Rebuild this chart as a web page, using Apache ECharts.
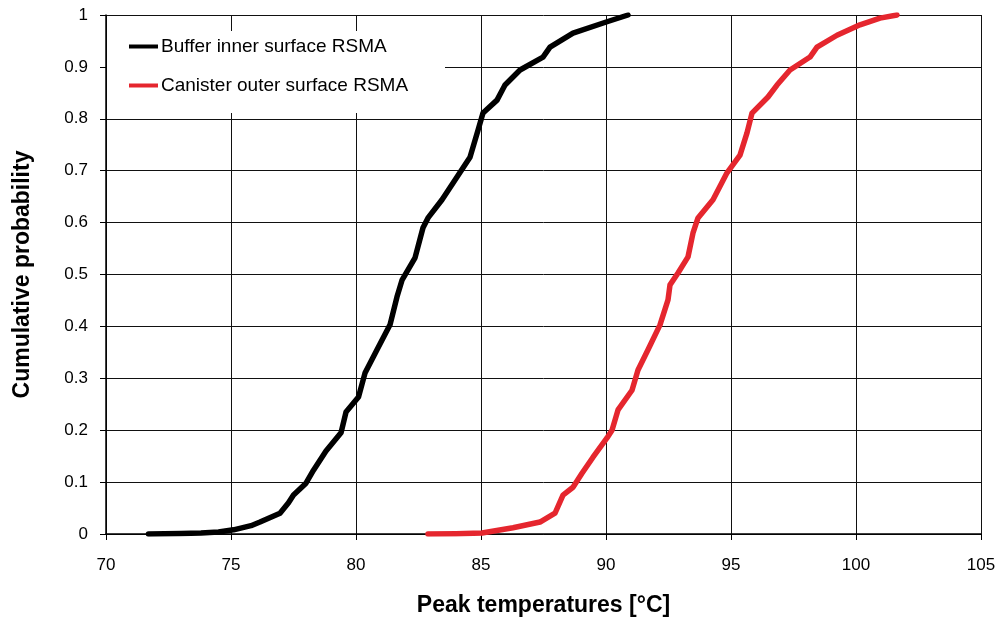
<!DOCTYPE html>
<html>
<head>
<meta charset="utf-8">
<script src="https://cdn.jsdelivr.net/npm/echarts@6/dist/echarts.min.js"></script>
<style>
  html, body { margin: 0; padding: 0; background: #fff; }
  #chart { width: 1000px; height: 623px; }
</style>
</head>
<body>
<div id="chart"></div>
<script>
// Cumulative distributions of peak temperatures (RSMA)
const bufferName = 'Buffer inner surface RSMA';
const bufferTemp = [71.7, 73.0, 73.8, 74.5, 75.1, 75.8, 76.16, 76.96, 77.3, 77.5, 78.0, 78.3, 78.8, 79.4, 79.6, 80.1, 80.36, 80.84, 81.36, 81.64, 81.84, 82.36, 82.68, 82.88, 83.44, 84.04, 84.56, 84.88, 85.08, 85.64, 85.96, 86.56, 87.48, 87.76, 88.68, 90.04, 90.88];
const bufferProb = [0, 0.001, 0.002, 0.004, 0.008, 0.016, 0.023, 0.04, 0.06, 0.075, 0.098, 0.123, 0.16, 0.195, 0.235, 0.264, 0.31, 0.355, 0.403, 0.457, 0.489, 0.532, 0.59, 0.609, 0.644, 0.688, 0.726, 0.778, 0.811, 0.836, 0.865, 0.894, 0.919, 0.938, 0.965, 0.987, 1.0];

const canisterName = 'Canister outer surface RSMA';
const canisterTemp = [82.88, 84.0, 85.04, 86.28, 87.36, 87.96, 88.28, 88.68, 89.04, 89.48, 90.04, 90.24, 90.48, 91.04, 91.28, 91.68, 92.16, 92.48, 92.56, 92.88, 93.28, 93.48, 93.68, 94.28, 94.84, 95.36, 95.64, 95.84, 96.48, 96.84, 97.36, 98.16, 98.44, 99.24, 100.16, 100.96, 101.64];
const canisterProb = [0, 0.0005, 0.002, 0.012, 0.023, 0.04, 0.075, 0.09, 0.117, 0.148, 0.185, 0.2, 0.239, 0.277, 0.316, 0.355, 0.403, 0.451, 0.48, 0.503, 0.534, 0.58, 0.609, 0.644, 0.696, 0.73, 0.773, 0.811, 0.842, 0.865, 0.894, 0.919, 0.938, 0.961, 0.981, 0.994, 1.0];

const xTicks = [70, 75, 80, 85, 90, 95, 100, 105];
const yTicks = [0, 0.1, 0.2, 0.3, 0.4, 0.5, 0.6, 0.7, 0.8, 0.9, 1];

const xTitle = 'Peak temperatures [°C]';
const yTitle = 'Cumulative probability';

const pairs = (xs, ys) => xs.map((x, i) => [x, ys[i]]);
const FONT = '"Liberation Sans", Arial, Helvetica, sans-serif';
const gridLine = { show: true, lineStyle: { color: '#111', width: 1 } };

const chart = echarts.init(document.getElementById('chart'), null, { renderer: 'canvas' });

chart.setOption({
  animation: false,
  backgroundColor: '#fff',
  textStyle: { fontFamily: FONT },
  grid: { left: 106, right: 19, top: 15, bottom: 89, containLabel: false, outerBoundsMode: 'none' },
  xAxis: {
    type: 'value',
    min: xTicks[0],
    max: xTicks[xTicks.length - 1],
    interval: 5,
    name: xTitle,
    nameLocation: 'middle',
    nameGap: 60,
    nameTextStyle: { fontFamily: FONT, fontSize: 23, fontWeight: 'bold', color: '#000' },
    axisLine: { show: true, onZero: false, lineStyle: { color: '#000', width: 1.5 } },
    axisTick: { show: true, inside: false, length: 6, lineStyle: { color: '#000' } },
    axisLabel: { margin: 23, fontSize: 17, color: '#000', fontFamily: FONT },
    splitLine: gridLine
  },
  yAxis: {
    type: 'value',
    min: yTicks[0],
    max: yTicks[yTicks.length - 1],
    interval: 0.1,
    name: yTitle,
    nameLocation: 'middle',
    nameGap: 72,
    nameRotate: 90,
    nameTextStyle: { fontFamily: FONT, fontSize: 23, fontWeight: 'bold', color: '#000' },
    axisLine: { show: true, lineStyle: { color: '#000', width: 1.5 } },
    axisTick: { show: true, inside: false, length: 6, lineStyle: { color: '#000' } },
    axisLabel: {
      margin: 18, fontSize: 17, color: '#000', fontFamily: FONT,
      formatter: v => String(Math.round(v * 10) / 10)
    },
    splitLine: gridLine
  },
  graphic: [{
    type: 'rect',
    z: 5,
    shape: { x: 107, y: 31, width: 338, height: 82 },
    style: { fill: '#fff', stroke: null }
  }],
  legend: [
    {
      z: 10, left: 129, top: 37, padding: 0,
      icon: 'rect', itemWidth: 29, itemHeight: 4, itemGap: 5,
      textStyle: { fontSize: 19, color: '#000', fontFamily: FONT, padding: [0, 0, 0, -2] },
      data: [bufferName]
    },
    {
      z: 10, left: 129, top: 76, padding: 0,
      icon: 'rect', itemWidth: 29, itemHeight: 4, itemGap: 5,
      textStyle: { fontSize: 19, color: '#000', fontFamily: FONT, padding: [0, 0, 0, -2] },
      data: [canisterName]
    }
  ],
  series: [
    {
      name: bufferName,
      type: 'line',
      data: pairs(bufferTemp, bufferProb),
      showSymbol: false,
      symbol: 'none',
      smooth: false,
      color: '#000',
      lineStyle: { color: '#000', width: 5.5, join: 'round', cap: 'round' },
      z: 3
    },
    {
      name: canisterName,
      type: 'line',
      data: pairs(canisterTemp, canisterProb),
      showSymbol: false,
      symbol: 'none',
      smooth: false,
      color: '#e5262e',
      lineStyle: { color: '#e5262e', width: 5.5, join: 'round', cap: 'round' },
      z: 3
    }
  ]
});
</script>
</body>
</html>
